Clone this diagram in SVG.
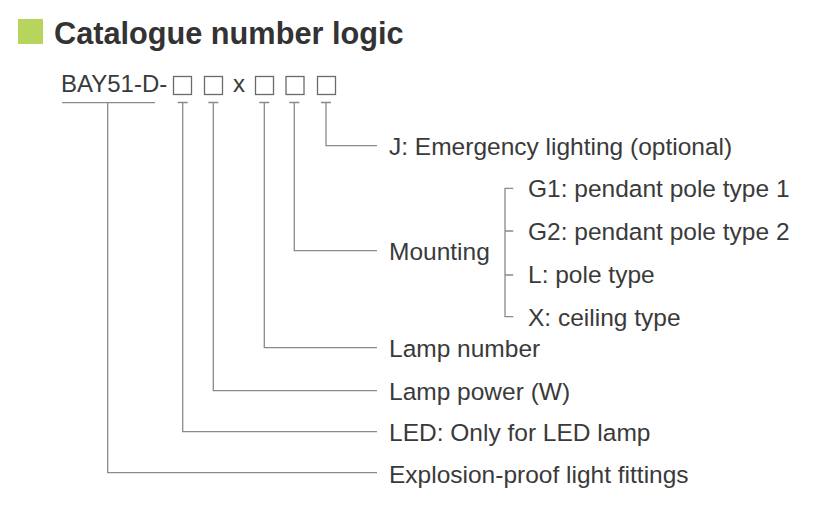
<svg xmlns="http://www.w3.org/2000/svg" width="814" height="507" viewBox="0 0 814 507">
<style>
.t{font-family:"Liberation Sans",Arial,sans-serif;font-size:24.5px;fill:#3a3a3a}
.c{font-family:"Liberation Sans",Arial,sans-serif;font-size:24px;fill:#3a3a3a}
.h{font-family:"Liberation Sans",Arial,sans-serif;font-size:30.7px;font-weight:bold;fill:#333}
.ln{fill:none;stroke:#8a8a8a;stroke-width:1.3}
.bx{fill:none;stroke:#6a6a6a;stroke-width:1.3}
</style>
<rect width="814" height="507" fill="#fff"/>
<g id="title">
<rect x="18" y="19" width="25" height="25" fill="#b7d55c"/>
<text class="h" x="54" y="43.5">Catalogue number logic</text>
</g>
<g id="code">
<text class="c" x="61" y="92">BAY51-D-</text>
<rect class="bx" x="173.5" y="76.5" width="18" height="18"/>
<rect class="bx" x="204.5" y="76.5" width="18" height="18"/>
<text class="c" x="233" y="92">x</text>
<rect class="bx" x="255.5" y="76.5" width="18" height="18"/>
<rect class="bx" x="286" y="76.5" width="18" height="18"/>
<rect class="bx" x="317.5" y="76.5" width="18" height="18"/>
</g>
<g id="connectors">
<path class="ln" d="M62 102.7H155M107.7 102.7V472.7H377"/>
<path class="ln" d="M177.7 102.5H187.7M182.7 102.5V431.7H377"/>
<path class="ln" d="M208.3 102.5H218.3M213.3 102.5V390.7H377"/>
<path class="ln" d="M259.3 102.5H269.3M264.3 102.5V347.7H377"/>
<path class="ln" d="M289.3 102.5H299.3M294.3 102.5V250.7H377"/>
<path class="ln" d="M321 102.5H331M326 102.5V145.7H377"/>
<path class="ln" d="M513.3 188.3H505V316.7H513.3M505 231H513.3M505 275H513.3"/>
</g>
<g id="node-j"><text class="t" x="389" y="154.5">J: Emergency lighting (optional)</text></g>
<g id="node-mounting"><text class="t" x="389" y="259.5">Mounting</text></g>
<g id="node-g1"><text class="t" x="528" y="196.5">G1: pendant pole type 1</text></g>
<g id="node-g2"><text class="t" x="528" y="240">G2: pendant pole type 2</text></g>
<g id="node-l"><text class="t" x="528" y="283">L: pole type</text></g>
<g id="node-x"><text class="t" x="528" y="325.5">X: ceiling type</text></g>
<g id="node-lampnumber"><text class="t" x="389" y="356.5">Lamp number</text></g>
<g id="node-lamppower"><text class="t" x="389" y="399.5">Lamp power (W)</text></g>
<g id="node-led"><text class="t" x="389" y="440.5">LED: Only for LED lamp</text></g>
<g id="node-explosion"><text class="t" x="389" y="482.5">Explosion-proof light fittings</text></g>
</svg>
